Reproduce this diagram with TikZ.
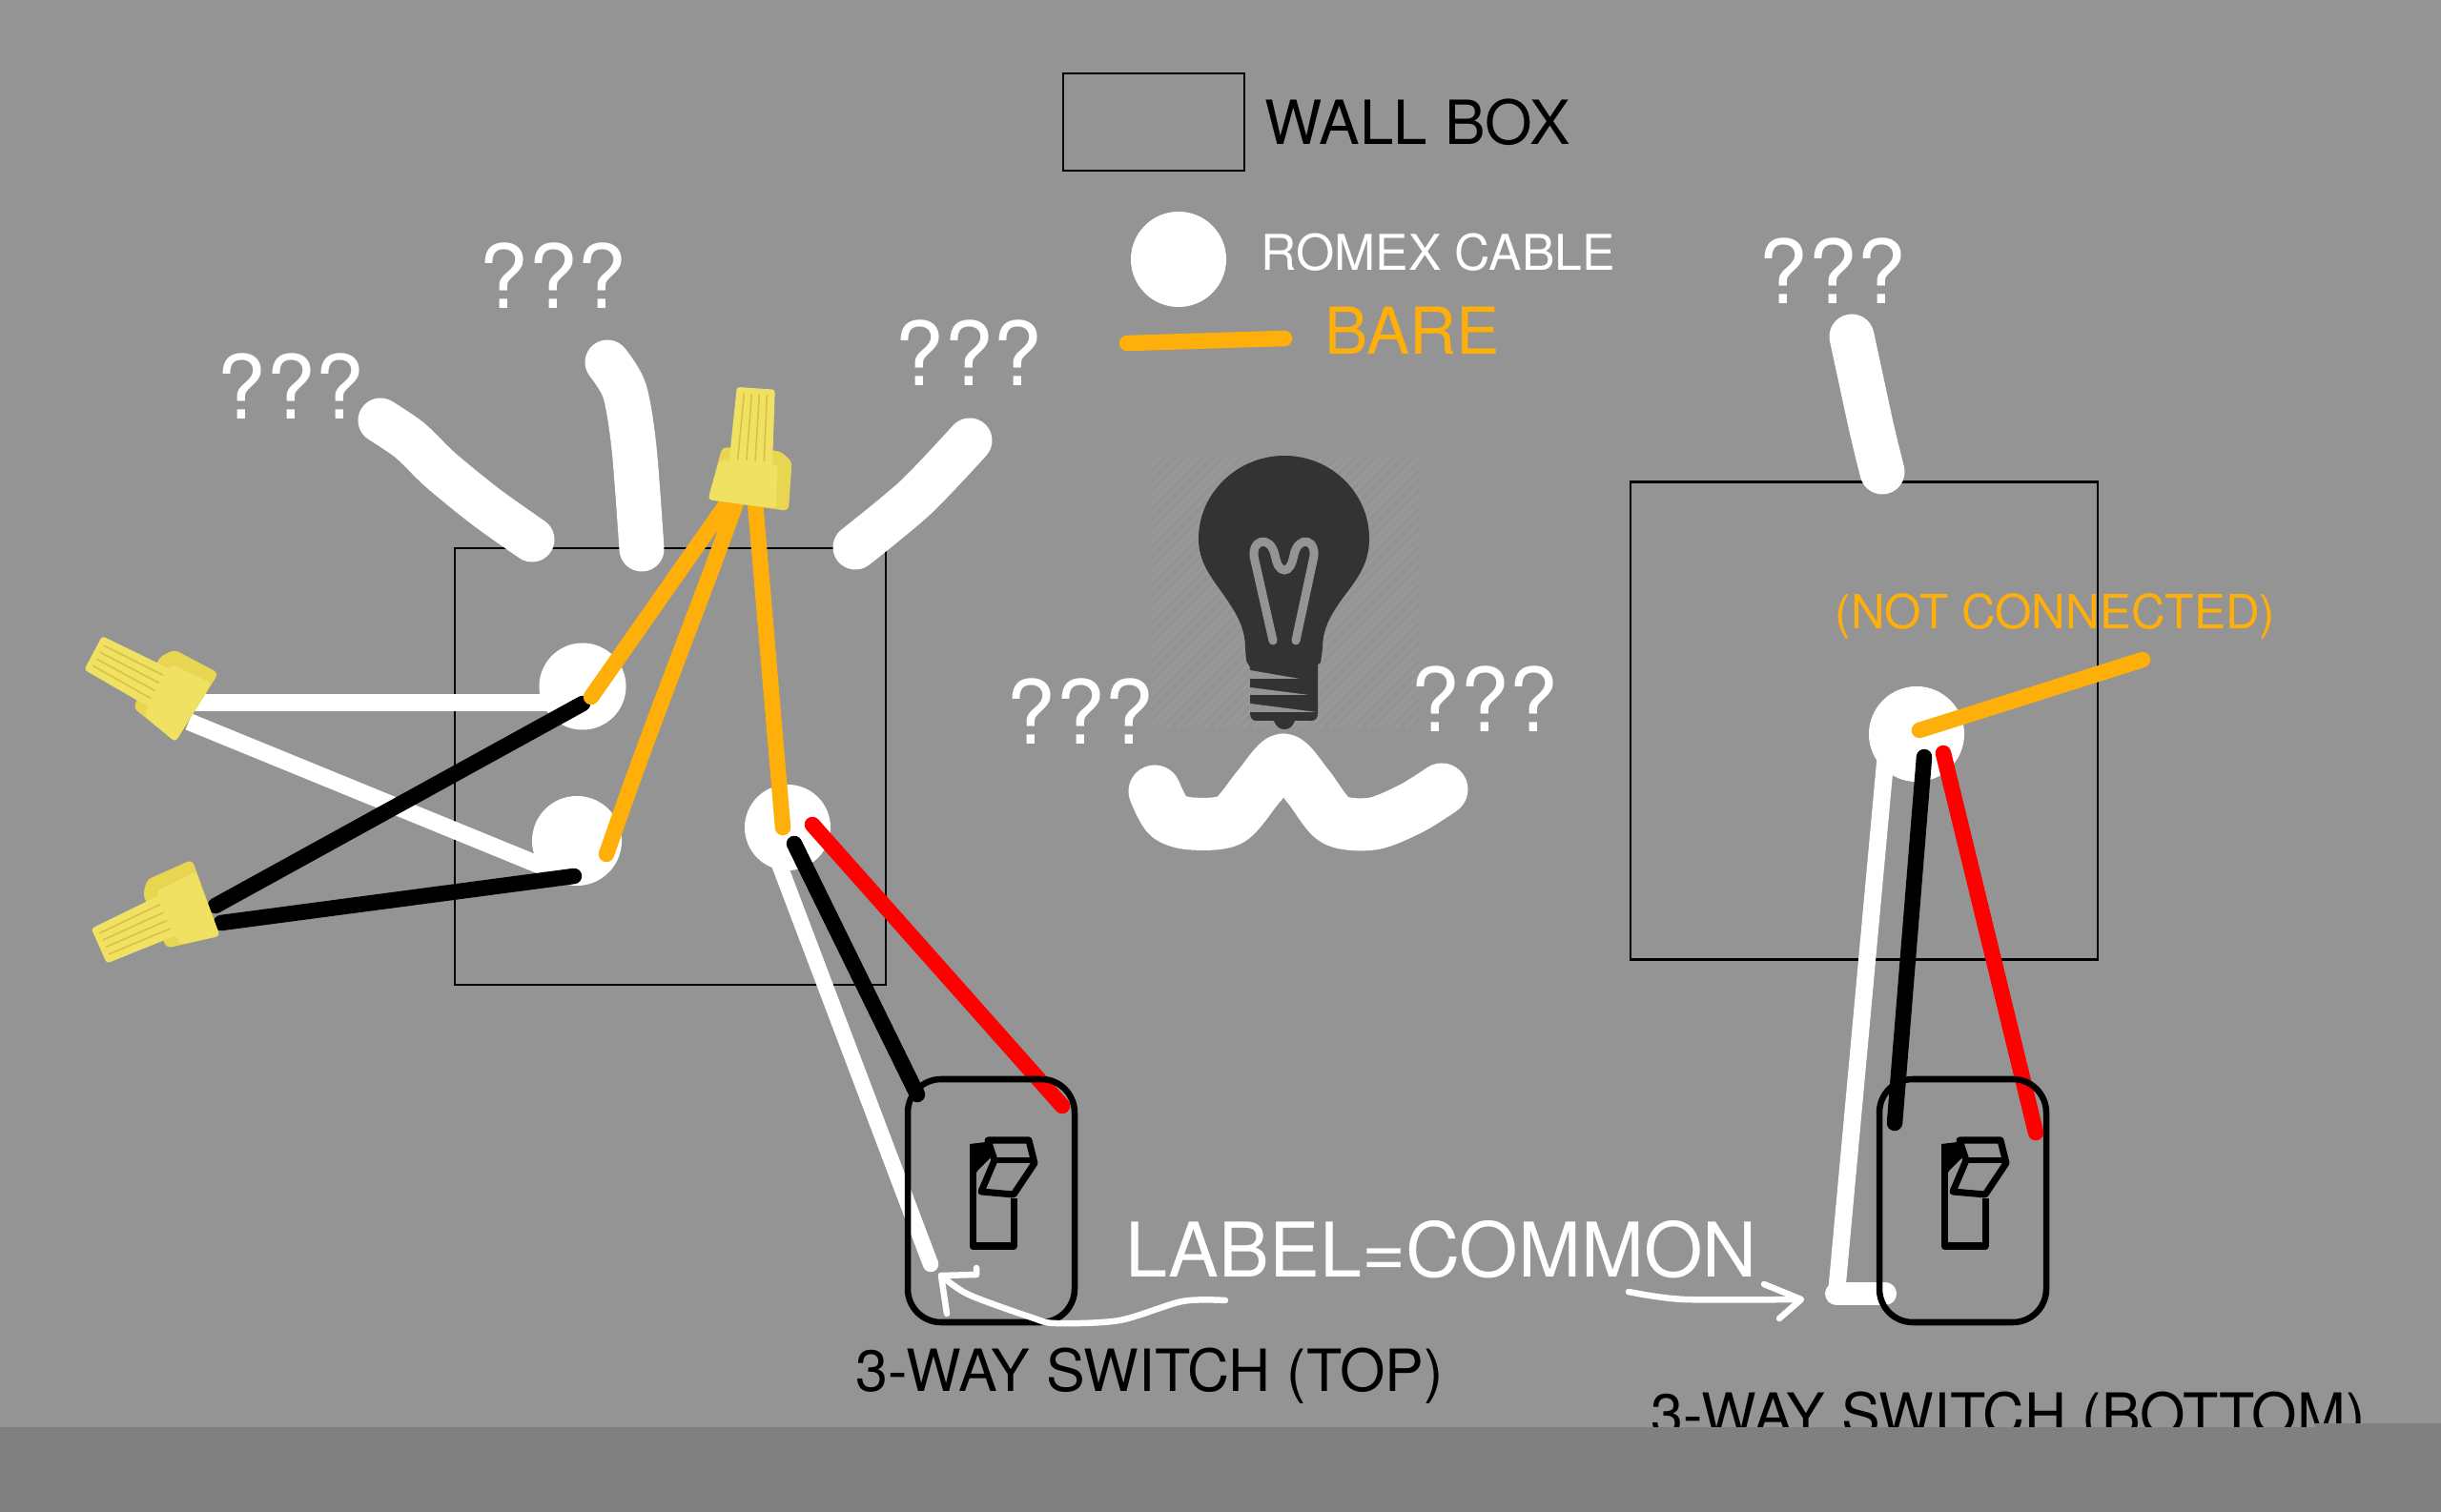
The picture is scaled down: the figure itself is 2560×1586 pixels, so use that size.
\documentclass[tikz,border=0pt]{standalone}
\usepackage{fontspec}
\setmainfont{TeX Gyre Heros}
\usepackage{tikz}
\definecolor{wallgray}{HTML}{949494}
\definecolor{floorgray}{HTML}{808080}
\definecolor{bareorange}{HTML}{FFAF0A}
\definecolor{bulbdark}{HTML}{333333}
\definecolor{hatchgray}{HTML}{9A9A9A}
\definecolor{nutyellow}{HTML}{F1E163}
\definecolor{nutshade}{HTML}{E9D650}
\definecolor{nutrib}{HTML}{D6C240}

\begin{document}
\begin{tikzpicture}[
            x=0.01cm, y=-0.01cm, % One unit is one pixel of the sketch
            wallbox/.style={draw=black, line width=0.025cm},
            hole/.style={circle, fill=white, inner sep=0pt},
            romex/.style={draw=white, line width=0.47cm, line cap=round, line join=round},
            wire/.style={line width=0.165cm, line cap=round, line join=round},
            pen/.style={draw=white, line width=0.065cm, line cap=round, line join=round},
            label/.style={anchor=base west, inner sep=0pt},
            ask/.style={label, text=white, font=\fontsize{26.4pt}{26.4pt}\selectfont},
            wirenut/.pic={
                \fill[nutshade, rounded corners=0.05cm] (-42,-6) -- (-31,-62) -- (30,-62) -- (43,-52) -- (43,0) -- cycle;
                \fill[nutyellow, rounded corners=0.04cm] (-42,-6) -- (-33,-48) -- (28,-48) -- (30,-2) -- cycle;
                \fill[nutyellow, rounded corners=0.03cm] (-23,-42) -- (-20,-126) -- (20,-126) -- (23,-42) -- cycle;
                \foreach \i in {-12,-4,4,12} {
                    \draw[nutrib, line width=0.015cm] (1.15*\i,-50) -- (\i,-120);
                }
            },
            toggle/.pic={
                \draw[line width=0.07cm, line join=round] (70,70) -- (70,177) -- (113,177) -- (113,127);
                \draw[line width=0.07cm, line join=round] (86,66) -- (129,66) -- (135,90) -- (113,123) -- (79,120) -- (93,87) -- cycle;
                \draw[line width=0.06cm] (93,87) -- (131,87);
                \fill (67,70) -- (84,68) -- (90,83) -- (76,97) -- (67,110) -- cycle;
                \draw[black, line width=0.065cm, rounded corners=0.35cm] (2,2) rectangle (177,257);
            }
            ]

    % Wall and the light-bulb backdrop
    \fill[wallgray] (0,0) rectangle (2560,1586);
    \useasboundingbox (0,0) rectangle (2560,1586);
    \begin{scope}
        \clip (1207,480) rectangle (1487,763);
        \foreach \i in {0,10,...,570} {
            \draw[hatchgray, line width=0.02cm] (\i+924,763) -- (\i+1207,480);
        }
    \end{scope}

    % Legend
    \node[wallbox, minimum width=1.9cm, minimum height=1.02cm, inner sep=0pt] (legendbox) at (1210,128) {};
    \node[label, font=\fontsize{18.15pt}{18.15pt}\selectfont] (legendboxtext) at (1326,152) {WALL BOX};
    \node[hole, minimum size=1cm] (legendhole) at (1236,272) {};
    \node[label, text=white, font=\fontsize{14.7pt}{14.7pt}\selectfont] (legendholetext) at (1322,284) {ROMEX CABLE};
    \coordinate (legendbareA) at (1182,360);
    \coordinate (legendbareB) at (1347,355);
    \draw[wire, bareorange] (legendbareA) -- (legendbareB);
    \node[label, text=bareorange, font=\fontsize{19.3pt}{19.3pt}\selectfont] (legendbaretext) at (1389,372) {BARE};

    % Question marks
    \node[ask] (askA) at (227,440) {???};
    \node[ask] (askB) at (502,324) {???};
    \node[ask] (askC) at (938,405) {???};
    \node[ask] (askD) at (1055,781) {???};
    \node[ask] (askE) at (1479,768) {???};
    \node[ask] (askF) at (1844,319) {???};

    % Left wall box
    \node[wallbox, minimum width=4.52cm, minimum height=4.58cm, inner sep=0pt] (boxleft) at (703,804) {};
    \draw[romex] plot[smooth, tension=0.5] coordinates {(399,441) (430,462) (462,493) (510,532) (558,566)};
    \draw[romex] plot[smooth] coordinates {(637,380) (655,410) (665,470) (673,576)};
    \draw[romex] plot[smooth] coordinates {(897,574) (960,522) (1017,462)};
    \node[hole, minimum size=0.91cm] (holeA) at (611,720) {};
    \node[hole, minimum size=0.94cm] (holeB) at (605,882) {};
    \node[hole, minimum size=0.9cm] (holeC) at (826,868) {};

    \coordinate (nutA) at (209,744);
    \coordinate (nutB) at (219,941);
    \coordinate (nutC) at (784,533);
    \coordinate (whiteA) at (200,737);
    \coordinate (whiteB) at (590,737);
    \coordinate (whiteC) at (198,757);
    \coordinate (whiteD) at (572,910);

    \draw[wire, white, line width=0.18cm, line cap=butt] (whiteA) -- (whiteB);
    \draw[wire, white, line width=0.18cm, line cap=butt] (whiteC) -- (whiteD);
    \draw[wire, black] (226,950) -- (611,738);
    \draw[wire, black] (232,968) -- (602,919);
    \draw[wire, bareorange] (763,527) -- (620,731);
    \draw[wire, bareorange] (772,527) .. controls (732,640) and (690,740) .. (636,896);
    \draw[wire, bareorange] (792,527) -- (821,868);
    \pic[rotate=62] at (nutA) {wirenut};
    \pic[rotate=114] at (nutB) {wirenut};
    \pic[rotate=-4] at (nutC) {wirenut};

    % Wires to the top switch
    \coordinate (topplate) at (950,1130);
    \draw[wire, white] (holeC.south) ++(-8,-5) -- (976,1326);
    \draw[wire, black] (833,885) -- (962,1148);
    \draw[wire, red] (852,865) -- (1114,1160);
    \pic at (topplate) {toggle};
    \node[label, font=\fontsize{17.35pt}{17.35pt}\selectfont] (toptext) at (897,1459) {3-WAY SWITCH (TOP)};

    % Light bulb
    \fill[bulbdark] (1347,478) .. controls (1396,478) and (1436,517) .. (1436,565)
        .. controls (1436,590) and (1425,605) .. (1410,625)
        .. controls (1395,645) and (1387,660) .. (1387,680)
        -- (1385,695) -- (1382,697) -- (1382,748) .. controls (1382,754) and (1379,756) .. (1375,756) -- (1358,756)
        .. controls (1356,762) and (1352,765) .. (1347,765) .. controls (1342,765) and (1338,762) .. (1336,756)
        -- (1318,756) .. controls (1314,756) and (1311,754) .. (1311,748) -- (1311,700) -- (1307,693) -- (1306,680)
        .. controls (1306,660) and (1298,645) .. (1284,625)
        .. controls (1270,605) and (1257,590) .. (1257,565)
        .. controls (1257,517) and (1298,478) .. (1347,478) -- cycle;
    \draw[wallgray, line width=0.09cm, line cap=round] (1335,672) -- (1316,588)
        .. controls (1310,566) and (1332,560) .. (1337,582)
        .. controls (1339,592) and (1342,598) .. (1347,598)
        .. controls (1352,598) and (1355,592) .. (1357,582)
        .. controls (1362,560) and (1383,566) .. (1377,588) -- (1359,672);
    \fill[wallgray] (1311,703) -- (1363,712) -- (1311,712) -- cycle;
    \fill[wallgray] (1311,721) -- (1373,729) -- (1311,729) -- cycle;
    \fill[wallgray] (1311,738) -- (1381,747) -- (1311,747) -- cycle;
    \draw[draw=white, line width=0.55cm, line cap=round, line join=round] plot[smooth, tension=0.5] coordinates {(1211,830) (1225,856) (1250,864) (1290,860) (1320,825) (1346,797) (1372,825) (1400,860) (1440,864) (1480,848) (1512,828)};

    % Right wall box
    \node[wallbox, minimum width=4.9cm, minimum height=5.01cm, inner sep=0pt] (boxright) at (1955,756) {};
    \draw[romex] plot[smooth] coordinates {(1942,353) (1950,390) (1963,450) (1974,495)};
    \node[hole, minimum size=1cm] (holeD) at (2010,770) {};
    \node[label, text=bareorange, font=\fontsize{14.05pt}{14.05pt}\selectfont] (notconnected) at (1924,660) {(NOT CONNECTED)};
    \coordinate (bareend) at (2247,692);
    \draw[wire, bareorange] (2013,766) -- (bareend);

    % Wires to the bottom switch
    \coordinate (bottomplate) at (1969,1130);
    \coordinate (foot) at (1926,1357);
    \draw[wire, white, line width=0.18cm] (holeD.center) ++(-33,30) -- (foot);
    \draw[white, line width=0.24cm, line cap=round] (foot) -- (1977,1357);
    \draw[wire, black] (2018,794) -- (1987,1178);
    \draw[wire, red] (2038,790) -- (2135,1188);
    \pic at (bottomplate) {toggle};
    \node[label, font=\fontsize{17.35pt}{17.35pt}\selectfont] (bottomtext) at (1731,1505) {3-WAY SWITCH (BOTTOM)};

    % Common label and its two hand-drawn arrows
    \node[label, text=white, font=\fontsize{22.5pt}{22.5pt}\selectfont] (commontext) at (1180,1340) {LABEL=COMMON};
    \draw[pen] plot[smooth] coordinates {(1285,1364) (1240,1365) (1174,1385) (1107,1388) (1082,1382) (1016,1358) (987,1338)};
    \draw[pen] (993,1378) -- (987,1338) -- (1024,1337) -- (1024,1330);
    \draw[pen] plot[smooth] coordinates {(1708,1355) (1766,1363) (1888,1363)};
    \draw[pen] (1850,1347) -- (1889,1363) -- (1866,1383);

    % Floor strip
    \fill[floorgray] (0,1497) -- (2428,1497) -- (2428,1493) -- (2560,1493) -- (2560,1586) -- (0,1586) -- cycle;

\end{tikzpicture}
\end{document}
